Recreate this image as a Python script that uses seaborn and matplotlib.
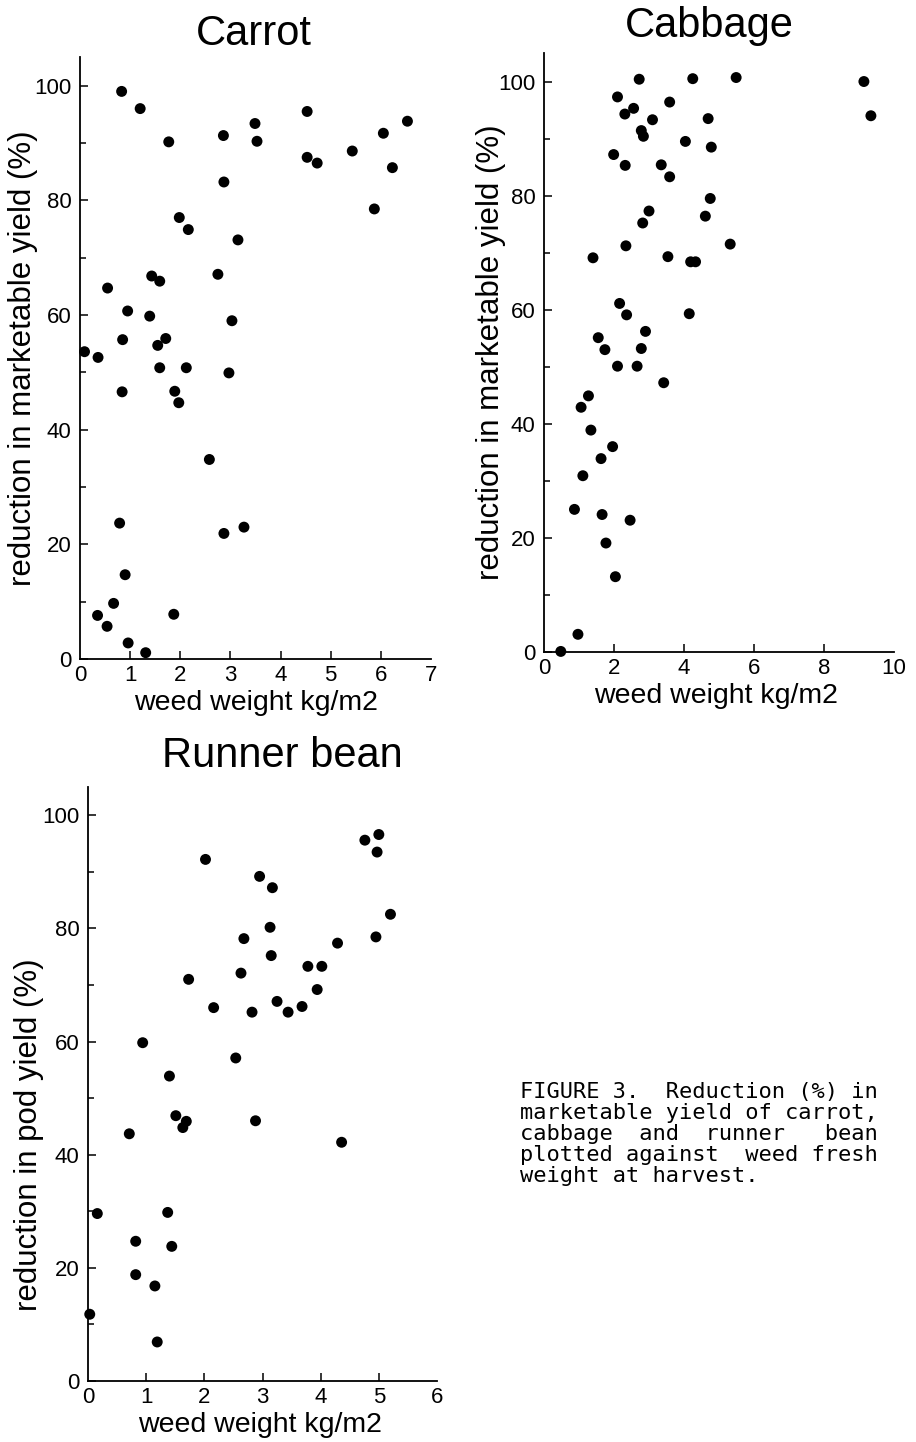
import matplotlib
matplotlib.use("Agg")
import matplotlib.pyplot as plt
from matplotlib.ticker import MultipleLocator
import pandas as pd
import seaborn as sns

# ---- data: weed weight (kg/m2) vs reduction (%) ----
carrot_weed = [0.83, 1.20, 4.53, 3.49, 6.53, 2.86, 3.53, 1.77, 6.05, 4.53,
               4.73, 5.43, 6.23, 2.87, 5.87, 1.98, 2.16, 3.15, 2.75, 1.43,
               1.59, 0.55, 0.95, 1.39, 3.03, 0.85, 1.71, 1.55, 0.09, 0.36,
               1.59, 2.12, 2.97, 0.84, 1.89, 1.97, 2.58, 0.79, 2.87, 3.27,
               0.90, 0.67, 0.35, 0.54, 1.87, 0.96, 1.31]
carrot_loss = [99.0, 96.0, 95.5, 93.4, 93.8, 91.3, 90.3, 90.2, 91.7, 87.5,
               86.5, 88.6, 85.7, 83.2, 78.5, 77.0, 74.9, 73.1, 67.1, 66.8,
               65.9, 64.7, 60.7, 59.8, 59.0, 55.7, 55.9, 54.7, 53.6, 52.6,
               50.8, 50.8, 49.9, 46.6, 46.7, 44.7, 34.8, 23.7, 21.9, 23.0,
               14.7, 9.7, 7.6, 5.7, 7.8, 2.8, 1.1]

cabbage_weed = [2.72, 4.25, 5.49, 9.14, 2.10, 3.59, 2.56, 2.31, 3.10, 4.69,
                9.34, 2.78, 2.84, 4.04, 4.78, 1.99, 2.32, 3.35, 3.59, 4.75,
                3.00, 4.61, 2.82, 2.34, 5.32, 1.40, 3.54, 4.19, 4.33, 2.16,
                2.36, 4.15, 2.90, 1.55, 1.74, 2.78, 2.10, 2.66, 3.42, 1.27,
                1.06, 1.34, 1.96, 1.63, 1.11, 0.87, 1.66, 2.46, 1.77, 2.04,
                0.97, 0.48]
cabbage_loss = [100.4, 100.5, 100.7, 100.0, 97.3, 96.4, 95.3, 94.3, 93.3, 93.5,
                94.0, 91.4, 90.4, 89.5, 88.5, 87.2, 85.3, 85.4, 83.3, 79.5,
                77.3, 76.4, 75.2, 71.2, 71.5, 69.1, 69.3, 68.4, 68.4, 61.1,
                59.1, 59.3, 56.2, 55.1, 53.0, 53.2, 50.1, 50.1, 47.2, 44.9,
                42.9, 38.9, 36.0, 33.9, 30.9, 25.0, 24.1, 23.1, 19.1, 13.2,
                3.1, 0.1]

bean_weed = [5.00, 4.76, 4.97, 2.02, 2.95, 3.17, 5.20, 3.13, 2.68, 4.95,
             4.29, 3.15, 3.78, 4.02, 2.63, 1.73, 3.94, 3.25, 3.68, 2.16,
             3.44, 2.82, 0.94, 2.54, 1.40, 1.51, 2.88, 1.69, 1.63, 0.71,
             4.36, 0.16, 1.37, 0.82, 1.44, 0.82, 1.15, 0.03, 1.19]
bean_loss = [96.6, 95.6, 93.5, 92.2, 89.2, 87.2, 82.5, 80.2, 78.2, 78.5,
             77.4, 75.2, 73.3, 73.3, 72.1, 71.0, 69.2, 67.1, 66.2, 66.0,
             65.2, 65.2, 59.8, 57.1, 53.9, 46.9, 46.0, 45.9, 44.8, 43.7,
             42.2, 29.6, 29.8, 24.7, 23.8, 18.8, 16.8, 11.8, 6.9]

caption_lines = ["FIGURE 3.  Reduction (%) in",
                 "marketable yield of carrot,",
                 "cabbage  and  runner   bean",
                 "plotted against  weed fresh",
                 "weight at harvest."]

sns.set_theme(style="ticks")
plt.rcParams["font.family"] = ["Liberation Sans", "DejaVu Sans"]
plt.rcParams["text.color"] = "black"
plt.rcParams["axes.labelcolor"] = "black"

W, H = 916, 1442
fig = plt.figure(figsize=(W / 100, H / 100), dpi=100)


def px_axes(left, top, right, bottom):
    """Axes from pixel edges of the reference."""
    return fig.add_axes([left / W, 1 - bottom / H, (right - left) / W, (bottom - top) / H])


def draw_panel(ax, weed, loss, xmax, xstep, ylabel, title, title_xy, ylab_xy, xlab_xy):
    df = pd.DataFrame({"weed": weed, "loss": loss})
    sns.scatterplot(data=df, x="weed", y="loss", ax=ax, color="black",
                    s=62, edgecolor="none", clip_on=False, legend=False)
    ax.set_xlim(0, xmax)
    ax.set_ylim(0, 105)
    xt = list(range(0, xmax + 1, xstep))
    ax.set_xticks(xt)
    ax.set_xticklabels([str(v) for v in xt])
    ax.set_yticks(range(0, 101, 20))
    ax.yaxis.set_minor_locator(MultipleLocator(10))
    ax.tick_params(axis="both", which="major", direction="in", length=6, width=1.1,
                   labelsize=16, color="black", labelcolor="black")
    ax.tick_params(axis="y", which="minor", direction="in", length=4, width=1.1, color="black")
    ax.tick_params(axis="y", which="major", pad=6)
    ax.tick_params(axis="x", which="major", pad=4)
    ticks = ax.xaxis.get_major_ticks()
    ticks[0].tick1line.set_visible(False)
    ticks[-1].tick1line.set_visible(False)
    sns.despine(ax=ax)
    for s in ("left", "bottom"):
        ax.spines[s].set_linewidth(1.3)
        ax.spines[s].set_color("black")
    ax.set_xlabel("weed weight kg/m2", fontsize=20.5)
    ax.set_ylabel(ylabel, fontsize=22.5)
    ax.xaxis.set_label_coords(*xlab_xy)
    ax.yaxis.set_label_coords(*ylab_xy)
    fig.text(title_xy[0] / W, 1 - title_xy[1] / H, title, fontsize=30,
             ha="center", va="baseline", color="black")


ax1 = px_axes(80, 57, 431, 659)
draw_panel(ax1, carrot_weed, carrot_loss, 7, 1, "reduction in marketable yield (%)",
           "Carrot", (254, 45), (-0.12, 0.5), (0.5, -0.052))

ax2 = px_axes(544, 53, 894, 652)
draw_panel(ax2, cabbage_weed, cabbage_loss, 10, 2, "reduction in marketable yield (%)",
           "Cabbage", (709, 37), (-0.11, 0.5), (0.49, -0.052))

ax3 = px_axes(88, 787, 437, 1381)
draw_panel(ax3, bean_weed, bean_loss, 6, 1, "reduction in pod yield (%)",
           "Runner bean", (282, 767), (-0.125, 0.414), (0.493, -0.052))

for i, line in enumerate(caption_lines):
    fig.text(520 / W, 1 - (1098 + 21 * i) / H, line, fontsize=15.8,
             family=["DejaVu Sans Mono", "Liberation Mono"], ha="left",
             va="baseline", color="black")

fig.savefig("out.png", dpi=100, facecolor="white")
